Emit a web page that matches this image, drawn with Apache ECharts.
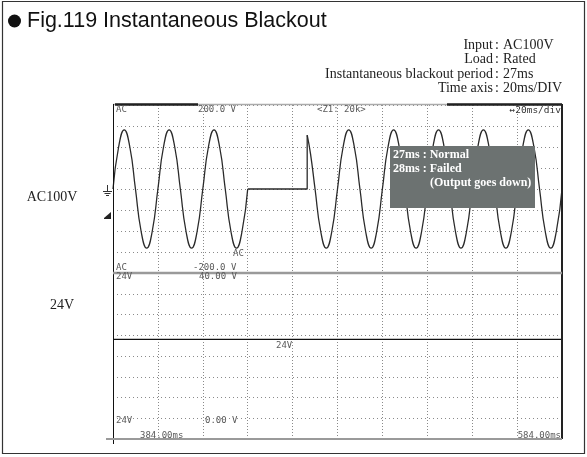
<!DOCTYPE html>
<html><head><meta charset="utf-8">
<script src="https://cdn.jsdelivr.net/npm/echarts@6/dist/echarts.min.js"></script>
<style>html,body{margin:0;padding:0;background:#fff}#c{width:587px;height:457px}</style>
</head><body><div id="c"></div>
<script>
// ---- data (time in ms, voltage in V) ----
const preTime  = [384,386.5,389,391.5,394,396.5,399,401.5,404,406.5,409,411.5,414,416.5,419,421.5,424,426.5,429,431.5,434,436.5,439,441.5,444];
const preVolt  = [0,100,141,100,0,-100,-141,-100, 0,100,141,100,0,-100,-141,-100, 0,100,141,100,0,-100,-141,-100, 0];
const outTime  = [444,470.5,470.5];
const outVolt  = [0,0,128];
const postTime = [470.5,472,474,476.5,479,481.5,484,486.5,489,491.5,494,496.5,499,501.5,504,506.5,509,511.5,514,516.5,519,521.5,524,526.5,529,531.5,534,536.5,539,541.5,544,546.5,549,551.5,554,556.5,559,561.5,564,566.5,569,571.5,574,576.5,579,581.5,584];
const postVolt = [128,83,0,-100,-141,-100,0,100,141,100,0,-100,-141,-100,0,100,141,100,0,-100,-141,-100,0,100,141,100,0,-100,-141,-100,0,100,141,100,0,-100,-141,-100,0,100,141,100,0,-100,-141,-100,0];
const dcTime   = [384,584];
const dcVolt   = [24,24];
const timeRange = [384,584];   // 20 ms/div
const acRange   = [-200,200];  // 50 V/div
const dcRange   = [0,40];      // 5 V/div

const pairs = (t,v)=>t.map((x,i)=>[x,v[i]]);

const chart = echarts.init(document.getElementById('c'), null, {renderer:'canvas'});
const GL = 113, GW = 449;
const splitX = {show:true, lineStyle:{color:'#8a8a8a', width:1, type:[1,2]}};
const splitY = {show:true, lineStyle:{color:'#8a8a8a', width:1, type:[1,3]}};
function xAx(i){return {gridIndex:i,type:'value',min:timeRange[0],max:timeRange[1],interval:20,
  axisLine:{show:false},axisTick:{show:false},axisLabel:{show:false},splitLine:splitX};}
function yAx(i,r,iv){return {gridIndex:i,type:'value',min:r[0],max:r[1],interval:iv,
  axisLine:{show:false},axisTick:{show:false},axisLabel:{show:false},splitLine:splitY};}

const mono = '"DejaVu Sans Mono", monospace';
const serif = '"Liberation Serif", "DejaVu Serif", serif';
function txt(x,y,text,font,size,color,align,weight,z){
  return {type:'text',z:z||110,x:x,y:y,style:{text:text,fill:color||'#555',
    font:(weight||'normal')+' '+size+'px '+font,textAlign:align||'left',textVerticalAlign:'middle'}};
}
function ln(x1,y1,x2,y2,color,w){
  return {type:'line',z:105,shape:{x1:x1,y1:y1,x2:x2,y2:y2},style:{stroke:color,lineWidth:w}};
}
const sc = '#5a5a5a';
const graphics = [
  // outer frame
  {type:'rect',z:100,shape:{x:2.5,y:1.5,width:582,height:452},style:{fill:'none',stroke:'#333',lineWidth:1.2}},
  // title
  {type:'circle',z:110,shape:{cx:14.5,cy:21,r:6.5},style:{fill:'#111'}},
  txt(27,21.5,'Fig.119 Instantaneous Blackout','"Liberation Sans", Arial, sans-serif',21.5,'#111'),
  // condition block
  txt(493,45,'Input',serif,14,'#222','right'),
  txt(493,59.5,'Load',serif,14,'#222','right'),
  txt(493,74,'Instantaneous blackout period',serif,14,'#222','right'),
  txt(493,88.5,'Time axis',serif,14,'#222','right'),
  txt(497,45,':',serif,14,'#222','center'),
  txt(497,59.5,':',serif,14,'#222','center'),
  txt(497,74,':',serif,14,'#222','center'),
  txt(497,88.5,':',serif,14,'#222','center'),
  txt(503,45,'AC100V',serif,14,'#222'),
  txt(503,59.5,'Rated',serif,14,'#222'),
  txt(503,74,'27ms',serif,14,'#222'),
  txt(503,88.5,'20ms/DIV',serif,14,'#222'),
  // side labels
  txt(52,197,'AC100V',serif,14,'#222','center'),
  txt(62,305,'24V',serif,14,'#222','center'),
  // scope frame
  ln(113,104.5,562,104.5,'#aaa',1.5),
  ln(115,104.5,198,104.5,'#222',2.5),
  ln(447,104.5,562,104.5,'#222',2.5),
  ln(113.5,104,113.5,444,'#111',1),
  ln(562,104,562,439,'#222',2),
  ln(113,273,562,273,'#9a9a9a',2.5),
  ln(106,439,562,439,'#9a9a9a',2),
  // ground marker & trigger marker
  ln(107.5,185,107.5,191,'#333',1),
  ln(103,191.5,112,191.5,'#333',1),
  ln(104.5,193.5,110.5,193.5,'#333',1),
  ln(106,195.5,109,195.5,'#333',1),
  {type:'polygon',z:110,shape:{points:[[104,218],[111,218],[111,212]]},style:{fill:'#222'}},
  ln(104,218.5,111,218.5,'#222',1),
  // scope annotations
  txt(116,110,'AC',mono,9,sc),
  txt(198,110,'200.0 V',mono,9,sc),
  txt(317,110,'<Z1: 20k>',mono,9,sc),
  txt(561,111,'\u219420ms/div',mono,9.5,'#333','right'),
  txt(233,254,'AC',mono,9,sc),
  txt(116,268,'AC',mono,9,sc),
  txt(193,268,'-200.0 V',mono,9,sc),
  txt(116,277,'24V',mono,9,sc),
  txt(199,277,'40.00 V',mono,9,sc),
  txt(276,346,'24V',mono,9,sc),
  txt(116,421,'24V',mono,9,sc),
  txt(205,421,'0.00 V',mono,9,sc),
  txt(140,436,'384.00ms',mono,9,sc),
  txt(561,436,'584.00ms',mono,9,sc,'right'),
  // result box
  {type:'rect',z:120,shape:{x:390,y:146,width:145,height:62},style:{fill:'#6c7271'}},
  txt(393,155,'27ms : Normal',serif,12,'#fff','left','bold',130),
  txt(393,169,'28ms : Failed',serif,12,'#fff','left','bold',130),
  txt(430,183,'(Output goes down)',serif,12,'#fff','left','bold',130)
];

const lineStyle = {color:'#2a2a2a', width:1.3};
chart.setOption({
  animation:false,
  grid:[{left:GL,top:105,width:GW,height:168},{left:GL,top:273,width:GW,height:166}],
  xAxis:[xAx(0),xAx(1)],
  yAxis:[yAx(0,acRange,50),yAx(1,dcRange,5)],
  series:[
    {type:'line',xAxisIndex:0,yAxisIndex:0,data:pairs(preTime,preVolt),smooth:0.5,showSymbol:false,lineStyle:lineStyle},
    {type:'line',xAxisIndex:0,yAxisIndex:0,data:pairs(outTime,outVolt),showSymbol:false,lineStyle:lineStyle},
    {type:'line',xAxisIndex:0,yAxisIndex:0,data:pairs(postTime,postVolt),smooth:0.5,showSymbol:false,lineStyle:lineStyle},
    {type:'line',xAxisIndex:1,yAxisIndex:1,data:pairs(dcTime,dcVolt),showSymbol:false,lineStyle:{color:'#111',width:1.2}}
  ],
  graphic:{elements:graphics}
});
</script></body></html>
